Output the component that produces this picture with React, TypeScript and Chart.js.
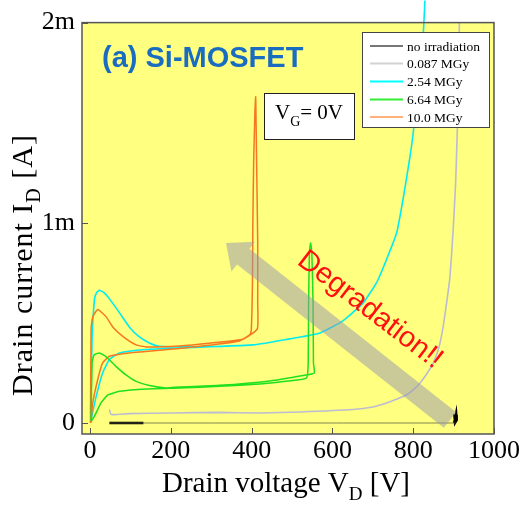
import { useEffect, useRef } from 'react';
import { Chart, registerables } from 'chart.js';
Chart.register(...registerables);

// ---- data (V in volts, I in mA) ----
const xTickValues = [0, 200, 400, 600, 800, 1000];
const yTickValues = [0, 1, 2];
const yTickLabels = ['0', '1m', '2m'];

const legendLabels = ['no irradiation', '0.087 MGy', '2.54 MGy', '6.64 MGy', '10.0 MGy'];
const legendColors = ['#777777', '#d2d2d2', '#00ffff', '#33ee33', '#ffb27a'];

// no irradiation
const noIrrThickV = [48, 132];
const noIrrThickI = [0, 0];
const noIrrThinV = [48, 300, 600, 905];
const noIrrThinI = [0, 0, 0, 0];
const noIrrEndV = [902, 906, 907, 904, 903, 906];
const noIrrEndI = [0.0, 0.04, 0.015, 0.005, 0.03, 0.025];

// 0.087 MGy
const mgy0087V = [48, 52, 97, 200, 321, 420, 520, 651, 700, 734, 760, 783, 800, 817, 835, 850, 864, 874, 884, 891, 899, 905, 909, 912, 915];
const mgy0087I = [0.067, 0.042, 0.047, 0.05, 0.053, 0.05, 0.055, 0.067, 0.08, 0.1, 0.12, 0.14, 0.165, 0.2, 0.25, 0.3, 0.38, 0.48, 0.62, 0.73, 0.967, 1.2, 1.45, 1.7, 2.1];

// 2.54 MGy
const mgy254V = [829, 825, 812, 800, 792, 775, 759, 734, 709, 676, 626, 569, 486, 403, 321, 221, 139, 73, 48, 31, 15, 5, 2, 3, 5, 11, 16, 23, 35, 48, 73, 97, 122, 147, 172, 250, 330];
const mgy254I = [2.11, 1.95, 1.7, 1.45, 1.33, 1.12, 0.95, 0.817, 0.7, 0.6, 0.51, 0.45, 0.417, 0.39, 0.383, 0.375, 0.367, 0.35, 0.317, 0.25, 0.133, 0.04, 0.01, 0.2, 0.43, 0.62, 0.65, 0.663, 0.65, 0.62, 0.55, 0.48, 0.43, 0.4, 0.383, 0.38, 0.382];

// 6.64 MGy
const mgy664V = [2.5, 10.7, 27, 44, 73, 139, 221, 321, 420, 490, 536, 540, 541, 543, 546, 549, 552, 553, 555, 527, 445, 321, 221, 188, 147, 114, 89, 64, 40, 23, 10, 5, 2.5];
const mgy664I = [0.008, 0.033, 0.1, 0.14, 0.158, 0.17, 0.175, 0.183, 0.195, 0.21, 0.225, 0.3, 0.6, 0.85, 0.9, 0.85, 0.6, 0.3, 0.25, 0.237, 0.21, 0.188, 0.18, 0.175, 0.187, 0.208, 0.24, 0.283, 0.33, 0.35, 0.34, 0.3, 0.01];

// 10.0 MGy
const mgy10V = [2, 6.5, 19, 31, 48, 97, 221, 300, 370, 395, 399, 402, 403, 405, 408, 410, 411, 413, 415, 415, 414, 380, 300, 221, 139, 114, 81, 56, 40, 19, 6.5, 2.5, 1];
const mgy10I = [0.0, 0.1, 0.217, 0.3, 0.333, 0.35, 0.372, 0.39, 0.41, 0.44, 0.46, 0.7, 1.0, 1.3, 1.55, 1.63, 1.5, 1.2, 0.9, 0.6, 0.47, 0.42, 0.4, 0.385, 0.38, 0.39, 0.433, 0.48, 0.53, 0.567, 0.53, 0.47, 0.0];

const pts = (xs: number[], ys: number[]) => xs.map((x, i) => ({ x, y: ys[i] }));

const SERIF = "'Liberation Serif', 'Times New Roman', serif";
const SANS = "'Liberation Sans', Arial, sans-serif";

const decor = {
  id: 'decor',
  beforeDatasetsDraw(chart: any) {
    const { ctx, chartArea: a } = chart;
    ctx.save();
    ctx.fillStyle = '#ffff80';
    ctx.fillRect(a.left, a.top, a.right - a.left, a.bottom - a.top);
    ctx.restore();
  },
  afterDatasetsDraw(chart: any) {
    const { ctx, chartArea: a, scales } = chart;
    const xs = scales.x, ys = scales.y;
    ctx.save();

    // arrow
    const tail = { x: 450, y: 420 };
    const tip = { x: 226, y: 243 };
    const dx = tip.x - tail.x, dy = tip.y - tail.y;
    const len = Math.hypot(dx, dy);
    const ux = dx / len, uy = dy / len;
    const nx = -uy, ny = ux;
    const hw = 10, headLen = 22, headHw = 19;
    const bx = tip.x - ux * headLen, by = tip.y - uy * headLen;
    ctx.beginPath();
    ctx.moveTo(tail.x + nx * hw, tail.y + ny * hw);
    ctx.lineTo(bx + nx * hw, by + ny * hw);
    ctx.lineTo(bx + nx * headHw, by + ny * headHw);
    ctx.lineTo(tip.x, tip.y);
    ctx.lineTo(bx - nx * headHw, by - ny * headHw);
    ctx.lineTo(bx - nx * hw, by - ny * hw);
    ctx.lineTo(tail.x - nx * hw, tail.y - ny * hw);
    ctx.closePath();
    ctx.fillStyle = 'rgba(150,150,175,0.5)';
    ctx.fill();

    // Degradation text
    ctx.save();
    ctx.translate(370, 310);
    ctx.rotate((37.5 * Math.PI) / 180);
    ctx.font = `29px ${SANS}`;
    ctx.fillStyle = '#ff1010';
    ctx.textAlign = 'center';
    ctx.textBaseline = 'middle';
    ctx.fillText('Degradation!!', 0, 0);
    ctx.restore();

    // frame
    ctx.strokeStyle = '#555555';
    ctx.lineWidth = 1.5;
    ctx.strokeRect(a.left, a.top, a.right - a.left, a.bottom - a.top);
    ctx.lineWidth = 1;
    ctx.beginPath();
    xTickValues.forEach((v) => {
      const px = Math.round(xs.getPixelForValue(v)) + 0.5;
      ctx.moveTo(px, a.bottom);
      ctx.lineTo(px, a.bottom - 6);
    });
    yTickValues.forEach((v) => {
      const py = Math.round(ys.getPixelForValue(v)) + 0.5;
      ctx.moveTo(a.left, py);
      ctx.lineTo(a.left + 6, py);
    });
    ctx.stroke();

    // title
    ctx.font = `bold 29px ${SANS}`;
    ctx.fillStyle = '#1a6cc0';
    ctx.textAlign = 'left';
    ctx.textBaseline = 'alphabetic';
    ctx.fillText('(a) Si-MOSFET', 102, 67);

    // VG box
    ctx.fillStyle = '#ffffff';
    ctx.fillRect(264, 93, 91, 47);
    ctx.strokeStyle = '#222222';
    ctx.lineWidth = 1;
    ctx.strokeRect(264.5, 93.5, 90, 46);
    ctx.fillStyle = '#000000';
    ctx.font = `21px ${SERIF}`;
    let tx = 275;
    ctx.fillText('V', tx, 119);
    tx += ctx.measureText('V').width;
    ctx.font = `14px ${SERIF}`;
    ctx.fillText('G', tx, 126);
    tx += ctx.measureText('G').width;
    ctx.font = `21px ${SERIF}`;
    ctx.fillText('= 0V', tx, 119);

    // legend
    ctx.fillStyle = '#ffffff';
    ctx.fillRect(362, 32, 128, 96);
    ctx.strokeStyle = '#444444';
    ctx.strokeRect(362.5, 32.5, 127, 95);
    const rowY = [46, 63.5, 81.5, 99.5, 117];
    ctx.font = `13.5px ${SERIF}`;
    ctx.textBaseline = 'middle';
    legendLabels.forEach((lab, i) => {
      ctx.strokeStyle = legendColors[i];
      ctx.lineWidth = 2;
      ctx.beginPath();
      ctx.moveTo(370, rowY[i]);
      ctx.lineTo(403, rowY[i]);
      ctx.stroke();
      ctx.fillStyle = '#000000';
      ctx.fillText(lab, 407, rowY[i] + 1);
    });
    ctx.restore();
  },
  afterDraw(chart: any) {
    const { ctx } = chart;
    ctx.save();
    ctx.fillStyle = '#000000';
    ctx.textBaseline = 'alphabetic';
    ctx.textAlign = 'left';
    const drawSub = (main1: string, sub: string, main2: string, cx: number, base: number, size: number, subSize: number, spacing: number) => {
      (ctx as any).letterSpacing = `${spacing}px`;
      ctx.font = `${size}px ${SERIF}`;
      const w1 = ctx.measureText(main1).width;
      const w3 = ctx.measureText(main2).width;
      ctx.font = `${subSize}px ${SERIF}`;
      const w2 = ctx.measureText(sub).width;
      let x = cx - (w1 + w2 + w3) / 2;
      ctx.font = `${size}px ${SERIF}`;
      ctx.fillText(main1, x, base);
      x += w1;
      ctx.font = `${subSize}px ${SERIF}`;
      ctx.fillText(sub, x, base + 8);
      x += w2;
      ctx.font = `${size}px ${SERIF}`;
      ctx.fillText(main2, x, base);
      (ctx as any).letterSpacing = '0px';
    };
    drawSub('Drain voltage V', 'D', ' [V]', 286, 492, 29, 19, 0);
    ctx.save();
    ctx.translate(32, 265);
    ctx.rotate(-Math.PI / 2);
    drawSub('Drain current I', 'D', ' [A]', 0, 0, 30, 20, 1);
    ctx.restore();
    ctx.restore();
  },
};

export default function App() {
  const ref = useRef<HTMLCanvasElement | null>(null);
  useEffect(() => {
    if (!ref.current) return;
    const line = (data: any, color: string, width = 1.5, extra: any = {}) => ({
      data,
      borderColor: color,
      backgroundColor: color,
      borderWidth: width,
      showLine: true,
      pointRadius: 0,
      tension: 0.15,
      fill: false,
      ...extra,
    });
    const chart = new Chart(ref.current, {
      type: 'scatter',
      data: {
        datasets: [
          line(pts(noIrrThinV, noIrrThinI), 'rgba(90,90,60,0.75)', 1),
          line(pts(mgy0087V, mgy0087I), '#bbbbd2', 1.6),
          line(pts(mgy664V, mgy664I), '#1ee01e', 1.5),
          line(pts(mgy10V, mgy10I), '#f5781e', 1.5),
          line(pts(mgy254V, mgy254I), '#00ecf2', 1.6, { clip: { left: 0, top: 25, right: 0, bottom: 0 } }),
          line(pts(noIrrThickV, noIrrThickI), '#000000', 2.5),
          line(pts(noIrrEndV, noIrrEndI), '#000000', 3, { tension: 0 }),
        ],
      },
      options: {
        responsive: false,
        animation: false,
        devicePixelRatio: 1,
        layout: { padding: { top: 22, right: 33, left: 0, bottom: 0 } },
        plugins: { legend: { display: false }, tooltip: { enabled: false } },
        scales: {
          x: {
            type: 'linear',
            min: -20,
            max: 1000,
            afterFit: (s: any) => { s.height = 73; },
            afterBuildTicks: (s: any) => { s.ticks = xTickValues.map((v) => ({ value: v })); },
            grid: { display: false, drawTicks: false },
            border: { display: false },
            ticks: {
              font: { family: SERIF, size: 26 },
              color: '#000000',
              padding: 2,
              maxRotation: 0,
              callback: (v: any) => String(v),
            },
          },
          y: {
            type: 'linear',
            min: -0.055,
            max: 2,
            afterFit: (s: any) => { s.width = 82; },
            afterBuildTicks: (s: any) => { s.ticks = yTickValues.map((v) => ({ value: v })); },
            grid: { display: false, drawTicks: false },
            border: { display: false },
            ticks: {
              font: { family: SERIF, size: 26 },
              color: '#000000',
              padding: 7,
              callback: (v: any) => {
                const i = yTickValues.indexOf(v);
                return i >= 0 ? yTickLabels[i] : '';
              },
            },
          },
        },
      },
      plugins: [decor],
    } as any);
    return () => chart.destroy();
  }, []);
  return (
    <div style={{ position: 'absolute', left: 0, top: 0, width: 527, height: 507 }}>
      <canvas ref={ref} width={527} height={507} style={{ width: 527, height: 507, display: 'block' }} />
    </div>
  );
}
